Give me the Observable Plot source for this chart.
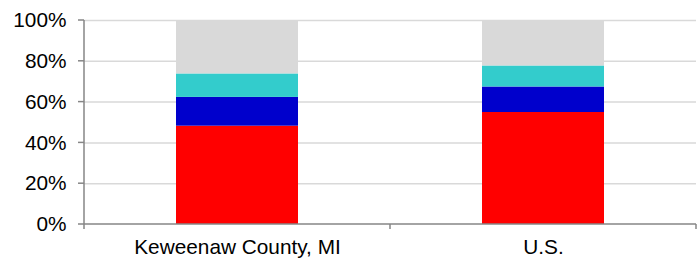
<!DOCTYPE html>
<html>
<head>
<meta charset="utf-8">
<script src="https://cdn.jsdelivr.net/npm/d3@7"></script>
<script src="https://cdn.jsdelivr.net/npm/@observablehq/plot@0.6"></script>
<style>
  html, body { margin: 0; padding: 0; background: #ffffff; }
  #chart svg { display: block; }
  #chart svg text { fill: #000000; }
</style>
</head>
<body>
<div id="chart"></div>
<script>
// ---- data ----
const categories = ["Keweenaw County, MI", "U.S."];
const seriesNames = ["Series 1", "Series 2", "Series 3", "Series 4"];
const series1 = [48.2, 54.9];
const series2 = [14.1, 12.5];
const series3 = [11.5, 10.3];
const series4 = [26.2, 22.3];
const yTicks = [0, 20, 40, 60, 80, 100];
const seriesColors = ["#ff0000", "#0000cc", "#33cccc", "#d9d9d9"];

// ---- styles ----
const AXIS_COLOR = "#868686";
const GRID_COLOR = "#d9d9d9";
const FONT = "'Liberation Sans', Arial, Helvetica, sans-serif";

const seriesValues = [series1, series2, series3, series4];
const data = [];
categories.forEach((c, i) => {
  seriesNames.forEach((s, j) => {
    data.push({category: c, series: s, value: seriesValues[j][i]});
  });
});

function axisLines(index, scales, values, dims) {
  const {x, y} = scales;
  const {width, marginLeft, marginRight} = dims;
  const left = marginLeft, right = width - marginRight;
  const y0 = y(0);
  const bw = typeof x.bandwidth === "function" ? x.bandwidth() : x.bandwidth;
  const centers = categories.map(c => x(c) + bw / 2);
  const edges = [left];
  for (let i = 1; i < centers.length; i++) edges.push((centers[i - 1] + centers[i]) / 2);
  edges.push(right);
  const g = d3.create("svg:g")
    .attr("stroke", AXIS_COLOR)
    .attr("stroke-width", 1.5)
    .attr("fill", "none");
  // y axis line
  g.append("line").attr("x1", left).attr("x2", left).attr("y1", y(yTicks[yTicks.length - 1])).attr("y2", y0);
  // y ticks
  yTicks.forEach(t => {
    g.append("line").attr("x1", left - 6).attr("x2", left).attr("y1", y(t)).attr("y2", y(t));
  });
  // x axis line
  g.append("line").attr("x1", left).attr("x2", right).attr("y1", y0).attr("y2", y0);
  // x boundary ticks
  edges.forEach(e => {
    g.append("line").attr("x1", e).attr("x2", e).attr("y1", y0).attr("y2", y0 + 5);
  });
  return g.node();
}

const chart = Plot.plot({
  width: 697,
  height: 259,
  marginTop: 20,
  marginBottom: 35,
  marginLeft: 84,
  marginRight: 1,
  style: {fontFamily: FONT, fontSize: "20.8px", color: "#000", background: "#fff", overflow: "visible"},
  x: {
    type: "band",
    domain: categories,
    paddingInner: 0.6,
    paddingOuter: 0.3,
    label: null,
    tickSize: 0,
    tickPadding: 15
  },
  y: {
    domain: [0, 100],
    ticks: yTicks,
    tickFormat: d => d + "%",
    label: null,
    tickSize: 0,
    tickPadding: 18
  },
  color: {domain: seriesNames, range: seriesColors},
  marks: [
    Plot.ruleY(yTicks.filter(t => t > 0), {stroke: GRID_COLOR, strokeWidth: 1.5}),
    Plot.barY(data, {x: "category", y: "value", fill: "series", order: seriesNames}),
    axisLines
  ]
});

document.getElementById("chart").appendChild(chart);
</script>
</body>
</html>
